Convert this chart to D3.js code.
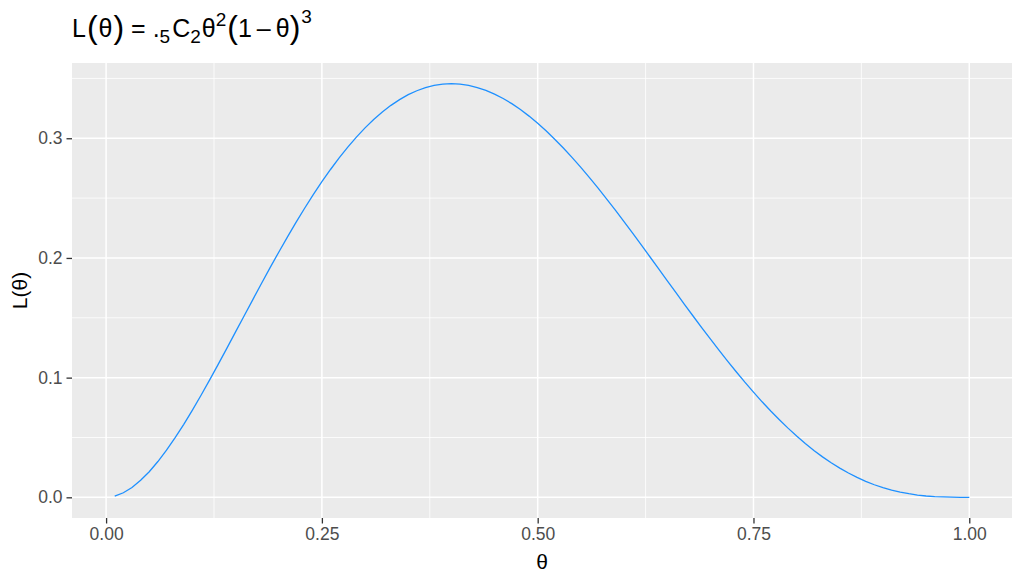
<!DOCTYPE html>
<html><head><meta charset="utf-8">
<script src="https://cdn.jsdelivr.net/npm/d3@7"></script>
<style>body{margin:0;background:#fff}svg{display:block}text{font-family:"Liberation Sans",Arial,sans-serif}</style>
</head><body><svg id="c" width="1024" height="585"></svg>
<script>
const theta = [0.01,0.02,0.03,0.04,0.05,0.06,0.07,0.08,0.09,0.10,
0.11,0.12,0.13,0.14,0.15,0.16,0.17,0.18,0.19,0.20,
0.21,0.22,0.23,0.24,0.25,0.26,0.27,0.28,0.29,0.30,
0.31,0.32,0.33,0.34,0.35,0.36,0.37,0.38,0.39,0.40,
0.41,0.42,0.43,0.44,0.45,0.46,0.47,0.48,0.49,0.50,
0.51,0.52,0.53,0.54,0.55,0.56,0.57,0.58,0.59,0.60,
0.61,0.62,0.63,0.64,0.65,0.66,0.67,0.68,0.69,0.70,
0.71,0.72,0.73,0.74,0.75,0.76,0.77,0.78,0.79,0.80,
0.81,0.82,0.83,0.84,0.85,0.86,0.87,0.88,0.89,0.90,
0.91,0.92,0.93,0.94,0.95,0.96,0.97,0.98,0.99,1.00];
const likelihood = [0.0010,0.0038,0.0082,0.0142,0.0214,0.0299,0.0394,0.0498,0.0610,0.0729,
0.0853,0.0981,0.1113,0.1247,0.1382,0.1517,0.1652,0.1786,0.1919,0.2048,
0.2174,0.2297,0.2415,0.2529,0.2637,0.2739,0.2836,0.2926,0.3010,0.3087,
0.3157,0.3220,0.3275,0.3323,0.3364,0.3397,0.3423,0.3441,0.3452,0.3456,
0.3452,0.3442,0.3424,0.3400,0.3369,0.3332,0.3289,0.3240,0.3185,0.3125,
0.3060,0.2990,0.2916,0.2838,0.2757,0.2671,0.2583,0.2492,0.2399,0.2304,
0.2207,0.2109,0.2010,0.1911,0.1811,0.1712,0.1613,0.1515,0.1418,0.1323,
0.1229,0.1138,0.1049,0.0962,0.0879,0.0798,0.0721,0.0648,0.0578,0.0512,
0.0450,0.0392,0.0338,0.0289,0.0244,0.0203,0.0166,0.0134,0.0105,0.0081,
0.0060,0.0043,0.0030,0.0019,0.0011,0.0006,0.0003,0.0001,0.0000,0.0000];
const xTicks = [0, 0.25, 0.5, 0.75, 1];
const xTickLabels = ["0.00","0.25","0.50","0.75","1.00"];
const yTicks = [0, 0.1, 0.2, 0.3];
const yTickLabels = ["0.0","0.1","0.2","0.3"];
const xMinor = [0.125, 0.375, 0.625, 0.875];
const yMinor = [0.05, 0.15, 0.25, 0.35];

const svg = d3.select("#c");
const L = 72, R = 1012, T = 63, B = 518;
const xr = d3.extent(theta), yr = [0, d3.max(likelihood)];
const xp = (xr[1]-xr[0])*0.05, yp = (yr[1]-yr[0])*0.05;
const x = d3.scaleLinear().domain([xr[0]-xp, xr[1]+xp]).range([L, R]);
const y = d3.scaleLinear().domain([yr[0]-yp, yr[1]+yp]).range([B, T]);

svg.append("rect").attr("x",L).attr("y",T).attr("width",R-L).attr("height",B-T).attr("fill","#EBEBEB");
const g = svg.append("g");
g.selectAll(".xm").data(xMinor).join("line").attr("x1",d=>x(d)).attr("x2",d=>x(d)).attr("y1",T).attr("y2",B).attr("stroke","#fff").attr("stroke-width",0.8);
g.selectAll(".ym").data(yMinor).join("line").attr("y1",d=>y(d)).attr("y2",d=>y(d)).attr("x1",L).attr("x2",R).attr("stroke","#fff").attr("stroke-width",0.8);
g.selectAll(".xM").data(xTicks).join("line").attr("x1",d=>x(d)).attr("x2",d=>x(d)).attr("y1",T).attr("y2",B).attr("stroke","#fff").attr("stroke-width",1.5);
g.selectAll(".yM").data(yTicks).join("line").attr("y1",d=>y(d)).attr("y2",d=>y(d)).attr("x1",L).attr("x2",R).attr("stroke","#fff").attr("stroke-width",1.5);

const line = d3.line().x((d,i)=>x(theta[i])).y(d=>y(d));
svg.append("path").datum(likelihood).attr("d",line).attr("fill","none").attr("stroke","#1E90FF").attr("stroke-width",1.3);

const xAxis = d3.axisBottom(x).tickValues(xTicks).tickFormat((d,i)=>xTickLabels[i]).tickSize(5.5).tickPadding(4);
const ax = svg.append("g").attr("transform",`translate(0,${B})`).call(xAxis);
const yAxis = d3.axisLeft(y).tickValues(yTicks).tickFormat((d,i)=>yTickLabels[i]).tickSize(5.5).tickPadding(4);
const ay = svg.append("g").attr("transform",`translate(${L},0)`).call(yAxis);
[ax, ay].forEach(a=>{
  a.attr("font-size",null).attr("font-family",null);
  a.select(".domain").remove();
  a.selectAll(".tick line").attr("stroke","#333").attr("stroke-width",1.3);
  a.selectAll(".tick text").attr("fill","#4D4D4D").style("font-size","17.5px");
});

svg.append("text").attr("x",(L+R)/2).attr("y",569).attr("text-anchor","middle").style("font-size","21px").attr("fill","#000").text("θ");
svg.append("text").attr("transform",`translate(27,${(T+B)/2}) rotate(-90)`).attr("text-anchor","middle").style("font-size","21px").attr("fill","#000").text("L(θ)");

const t = svg.append("text").attr("x",72).attr("y",37).style("font-size","25px").attr("fill","#000");
const parts = [
  ["L",0,25,0],["(",1,32,1],["θ",-1,25,1],[")",1,32,1],[" = ",-1,25,0],[".",0,25,0],["5",6,19,0],["C",-6,25,2],["2",6,19,0],
  ["θ",-6,25,1],["2",-11,19,0],["(",12,32,1],["1\u2009–\u2009θ",-1,25,0],[")",1,32,0],["3",-15,19,1]
];
parts.forEach(p=>t.append("tspan").attr("dy",p[1]).attr("dx",p[3]).style("font-size",p[2]+"px").text(p[0]));
</script></body></html>
